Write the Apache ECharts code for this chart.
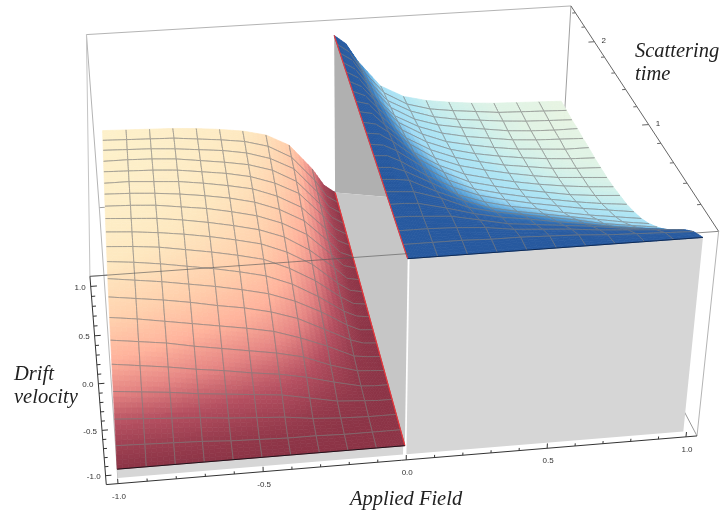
<!DOCTYPE html>
<html><head><meta charset="utf-8"><style>html,body{margin:0;background:#fff}#c{width:721px;height:514px}</style>
<script src="https://cdn.jsdelivr.net/npm/echarts@6/dist/echarts.min.js"></script></head>
<body><div id="c"></div><script>
// ---------- data ----------
const fieldValues=[0,.05,.1,.2,.3,.4,.5,.6,.7,.8,.9,1];
const timeValues=[0,.12,.24,.36,.48,.6,.72,.84,.96,1.08,1.2,1.32,1.44,1.56,1.68,1.8,1.92,2.04,2.16,2.28,2.4];
// |drift velocity| per scattering-time row, per |field| column (surface is odd in field)
const driftMagnitude=[
[1,1,1,1,1,1,1,1,1,1,1,1],
[1,1,1,1,.99,.99,.98,.97,.95,.94,.93,.92],
[1,1,1,.99,.97,.93,.91,.89,.86,.84,.82,.80],
[1,1,.99,.97,.91,.85,.82,.79,.76,.72,.69,.66],
[1,1,.99,.92,.84,.78,.74,.69,.65,.60,.56,.52],
[1,.99,.98,.89,.77,.70,.65,.60,.55,.49,.45,.41],
[1,.99,.97,.83,.71,.61,.55,.50,.45,.40,.35,.31],
[1,.99,.94,.79,.64,.54,.47,.42,.36,.31,.27,.23],
[1,.99,.92,.74,.59,.48,.41,.35,.30,.25,.21,.17],
[1,.98,.91,.71,.54,.42,.35,.29,.24,.19,.15,.12],
[1,.98,.89,.67,.50,.37,.30,.24,.19,.14,.11,.09],
[1,.97,.87,.62,.45,.33,.26,.20,.15,.11,.08,.06],
[1,.97,.83,.59,.41,.30,.23,.17,.12,.08,.06,.04],
[1,.96,.81,.54,.38,.27,.20,.14,.10,.06,.04,.03],
[1,.94,.79,.51,.35,.24,.17,.12,.08,.05,.03,.02],
[1,.93,.77,.48,.32,.21,.15,.10,.06,.04,.02,.02],
[1,.92,.74,.44,.29,.19,.13,.09,.05,.03,.02,.01],
[1,.91,.73,.42,.26,.17,.12,.08,.04,.02,.01,.01],
[1,.91,.71,.39,.24,.15,.10,.07,.04,.02,.01,0],
[1,.90,.69,.37,.21,.13,.09,.06,.03,.02,.01,0],
[1,.89,.67,.34,.19,.12,.08,.05,.03,.02,.01,0]];
const fieldTickLabels=['-1.0','-0.5','0.0','0.5','1.0'];
const driftTickLabels=['-1.0','-0.5','0.0','0.5','1.0'];
const timeTickLabels=['1','2'];
// ---------- camera calibration: box landmarks (field,time,drift) -> image ----------
const T0=-.04,T1=2.5;
const calib=[[-1.04,T0,-1.1,107,487],[1.04,T0,-1.1,697,438],[-1.04,T0,1.1,88,274],[-1.04,T0,1.1,88,274],[1.04,T0,1.1,718,230],
[-1.04,T1,1.1,86,33],[1.04,T1,1.1,570,9],[-1.04,T1,-1.1,100,209],[0,0,1,408,255],[0,0,-1,405,447],
[0,2.4,1,335,33],[0,2.4,-1,335,195],[1,0,1,702,237],[-1,0,-1,118,467],[1,0,-1.1,683,431],[-1,0,-1.1,118,478],
[1.04,1,1.1,653,133],[1.04,2,1.1,597,49],[1,2.4,0,559,93],[1,2.4,0,559,93],[-1,2.4,0,103,133],[-1,2.4,0,103,133]];
function solveCamera(){
  const A=Array.from({length:11},()=>new Array(12).fill(0));
  const add=r=>{for(let a=0;a<11;a++){for(let b=0;b<11;b++)A[a][b]+=r[a]*r[b];A[a][11]+=r[a]*r[11];}};
  calib.forEach(([x,y,z,u,v])=>{u/=500;v/=500;
    add([x,y,z,1,0,0,0,0,-u*x,-u*y,-u*z,u]);add([0,0,0,0,x,y,z,1,-v*x,-v*y,-v*z,v]);});
  for(let i=0;i<11;i++){let p=i;for(let r=i;r<11;r++)if(Math.abs(A[r][i])>Math.abs(A[p][i]))p=r;
    [A[i],A[p]]=[A[p],A[i]];
    for(let r=0;r<11;r++)if(r!==i){const f=A[r][i]/A[i][i];for(let c=i;c<12;c++)A[r][c]-=f*A[i][c];}}
  return A.map((r,i)=>r[11]/r[i]);
}
const P=solveCamera();
function proj(e,t,v){const w=P[8]*e+P[9]*t+P[10]*v+1;
  return [500*(P[0]*e+P[1]*t+P[2]*v+P[3])/w,500*(P[4]*e+P[5]*t+P[6]*v+P[7])/w];}
// ---------- colours ----------
const warm=[[0,'#fdf0ca'],[.13,'#fee8c0'],[.33,'#ffcfac'],[.5,'#ffb39c'],[.67,'#e58583'],[.83,'#b44f60'],[1,'#8c3446']];
const cool=[[0,'#e7f4e3'],[.08,'#d0f0ea'],[.2,'#b0e6f4'],[.42,'#a0dcf6'],[.58,'#5fa8dc'],[.72,'#3474b8'],[.85,'#2a5fa6'],[1,'#27599f']];
const rgb=h=>[1,3,5].map(i=>parseInt(h.substr(i,2),16));
function ramp(s,m){for(let i=1;i<s.length;i++)if(m<=s[i][0]){const f=(m-s[i-1][0])/(s[i][0]-s[i-1][0]);
  const a=rgb(s[i-1][1]),b=rgb(s[i][1]);return 'rgb('+a.map((c,k)=>Math.round(c+(b[k]-c)*f)).join(',')+')';}
  return s[s.length-1][1];}
// ---------- surface cells, painted back to front ----------
const cells=[];
for(let k=timeValues.length-2;k>=0;k--)for(let c=fieldValues.length-2;c>=0;c--)cells.push([k,c]);
const SUB=5;
function cellItem(sign,palette){return function(params,api){
  const [k,c]=cells[params.dataIndex];const e0=fieldValues[c],e1=fieldValues[c+1],t0=timeValues[k],t1=timeValues[k+1];
  const h=(a,b)=>{const p=driftMagnitude[k][c]*(1-a)+driftMagnitude[k][c+1]*a,q=driftMagnitude[k+1][c]*(1-a)+driftMagnitude[k+1][c+1]*a;return p*(1-b)+q*b;};
  const pt=(a,b)=>api.coord(proj(sign*(e0+(e1-e0)*a),t0+(t1-t0)*b,sign*h(a,b)));
  const ch=[];
  for(let b=SUB-1;b>=0;b--)for(let a=SUB-1;a>=0;a--){
    const a0=a/SUB,a1=(a+1)/SUB,b0=b/SUB,b1=(b+1)/SUB;const col=ramp(palette,h((a0+a1)/2,(b0+b1)/2));
    ch.push({type:'polygon',silent:true,shape:{points:[pt(a0,b0),pt(a1,b0),pt(a1,b1),pt(a0,b1)]},style:{fill:col,stroke:col,lineWidth:.7}});}
  const mesh={stroke:'rgba(125,125,125,.72)',fill:null,lineWidth:.9};
  const edge=(f)=>{const pts=[];for(let i=0;i<=SUB;i++)pts.push(f(i/SUB));ch.push({type:'polyline',silent:true,shape:{points:pts},style:mesh});};
  if(k>0)edge(a=>pt(a,0));
  if(k<timeValues.length-2)edge(a=>pt(a,1));
  if(c>1)edge(b=>pt(0,b));
  if(c+1!==1&&c+1<fieldValues.length-1)edge(b=>pt(1,b));
  return {type:'group',children:ch};
};}
// ---------- box, walls, ticks ----------
const backLines=[
 [[-1.04,T1,1.1],[1.04,T1,1.1],'#b4b4b4'],[[-1.04,T1,1.1],[-1.04,T1,-1.1],'#b4b4b4'],
 [[1.04,T1,1.1],[1.04,T1,-1.1],'#a0a0a0'],[[-1.04,T0,1.1],[-1.04,T1,1.1],'#c4c4c4'],
 [[-1.04,T1,-1.1],[1.04,T1,-1.1],'#a0a0a0'],[[-1.04,T1,-1.1],[-1,0,-1.1],'#b8b8b8'],
 [[1.04,T0,-1.1],[1.04,T1,-1.1],'#999999'],[[-1.04,T0,1.1],[1.04,T0,1.1],'#8a8a8a'],
 [[1.04,T0,1.1],[1.04,T0,-1.1],'#b4b4b4']];
const walls=[
 [[[0,2.4,1],[0,2.4,-1],[0,.55,1]],'#b0b0b0'],
 [[[0,2.4,-1],[0,0,-1],[0,0,1],[0,.55,1]],'#c6c6c6'],
 [[[-1,0,-1],[-.006,0,-1],[-.006,0,-1.1],[-1,0,-1.1]],'#d6d6d6'],
 [[[.006,0,1],[1,0,1],[1,0,-1.1],[.006,0,-1.1]],'#d6d6d6']];
const topLines=[
 [[0,0,1],[0,2.4,1],'#e8383c',1.2],[[0,0,-1],[0,2.4,-1],'#e8383c',1.2],
 [[-1,0,-1],[0,0,-1],'#20121a',1],[[0,0,1],[1,0,1],'#0e2a55',1],
 [[-1.04,T0,1.1],[0,T0,1.1],'rgba(90,90,90,.7)',.9],
 [[-1.04,T0,-1.1],[1.04,T0,-1.1],'#333333',1],[[-1.04,T0,-1.1],[-1.04,T0,1.1],'#333333',1],[[1.04,T0,1.1],[1.04,T1,1.1],'#666666',1]];
for(let i=0;i<=20;i++){const e=-1+i*.1,maj=i%5===0;topLines.push([[e,T0,-1.1],[e,T0,-1.1+(maj?.055:.03)],'#333333',1]);}
for(let i=0;i<=20;i++){const v=-1+i*.1,maj=i%5===0;topLines.push([[-1.04,T0,v],[-1.04+(maj?.02:.012),T0,v],'#333333',1]);}
for(let i=1;i<=12;i++){const t=i*.2,maj=i%5===0;topLines.push([[1.04,t,1.1],[1.04-(maj?.025:.014),t,1.1],'#666666',1]);}
const tickTexts=[];
fieldTickLabels.forEach(s=>{const p=proj(+s,T0,-1.1);tickTexts.push([s,p[0]+1,p[1]+13,'center']);});
driftTickLabels.forEach(s=>{const p=proj(-1.04,T0,+s);tickTexts.push([s,p[0]-5,p[1]+1,'right']);});
timeTickLabels.forEach(s=>{const p=proj(1.04,+s,1.1);tickTexts.push([s,p[0]+7,p[1]-1,'left']);});
const lineItem=L=>(params,api)=>{const l=L[params.dataIndex];
  return {type:'line',silent:true,shape:(([a,b])=>({x1:a[0],y1:a[1],x2:b[0],y2:b[1]}))([api.coord(proj(...l[0])),api.coord(proj(...l[1]))]),style:{stroke:l[2],lineWidth:l[3]||1}};};
const idx=a=>a.map((_,i)=>[i,0]);
const custom=(name,items,renderItem,z)=>({type:'custom',name,coordinateSystem:'cartesian2d',data:idx(items),renderItem,z,silent:true,animation:false,clip:false,progressive:0,encode:{x:0,y:1}});
const titles=[['Drift',14,385],['velocity',14,408],['Applied Field',350,510],['Scattering',635,62],['time',635,85]];
const chart=echarts.init(document.getElementById('c'),null,{renderer:'canvas'});
chart.setOption({animation:false,backgroundColor:'#fff',
 grid:{left:0,right:0,top:0,bottom:0},
 xAxis:{type:'value',min:0,max:721,show:false},yAxis:{type:'value',min:0,max:514,inverse:true,show:false},
 series:[
  custom('box',backLines,lineItem(backLines),1),
  custom('walls',walls,(p,api)=>{const w=walls[p.dataIndex];return {type:'polygon',silent:true,shape:{points:w[0].map(q=>api.coord(proj(...q)))},style:{fill:w[1]}};},2),
  custom('Negative field',cells,cellItem(-1,warm),3),
  custom('Positive field',cells,cellItem(1,cool),4),
  custom('axes',topLines,lineItem(topLines),5),
  custom('tick labels',tickTexts,(p,api)=>{const t=tickTexts[p.dataIndex];const c=api.coord([t[1],t[2]]);
    return {type:'text',silent:true,style:{text:t[0],x:c[0],y:c[1],align:t[3],verticalAlign:'middle',fill:'#333',font:'8px "Liberation Sans"'}};},6),
  custom('titles',titles,(p,api)=>{const t=titles[p.dataIndex];const c=api.coord([t[1],t[2]]);
    return {type:'text',silent:true,style:{text:t[0],x:c[0],y:c[1],align:'left',verticalAlign:'bottom',fill:'#222',font:'italic 20.5px "Liberation Serif"'}};},6)
 ]});
</script></body></html>
